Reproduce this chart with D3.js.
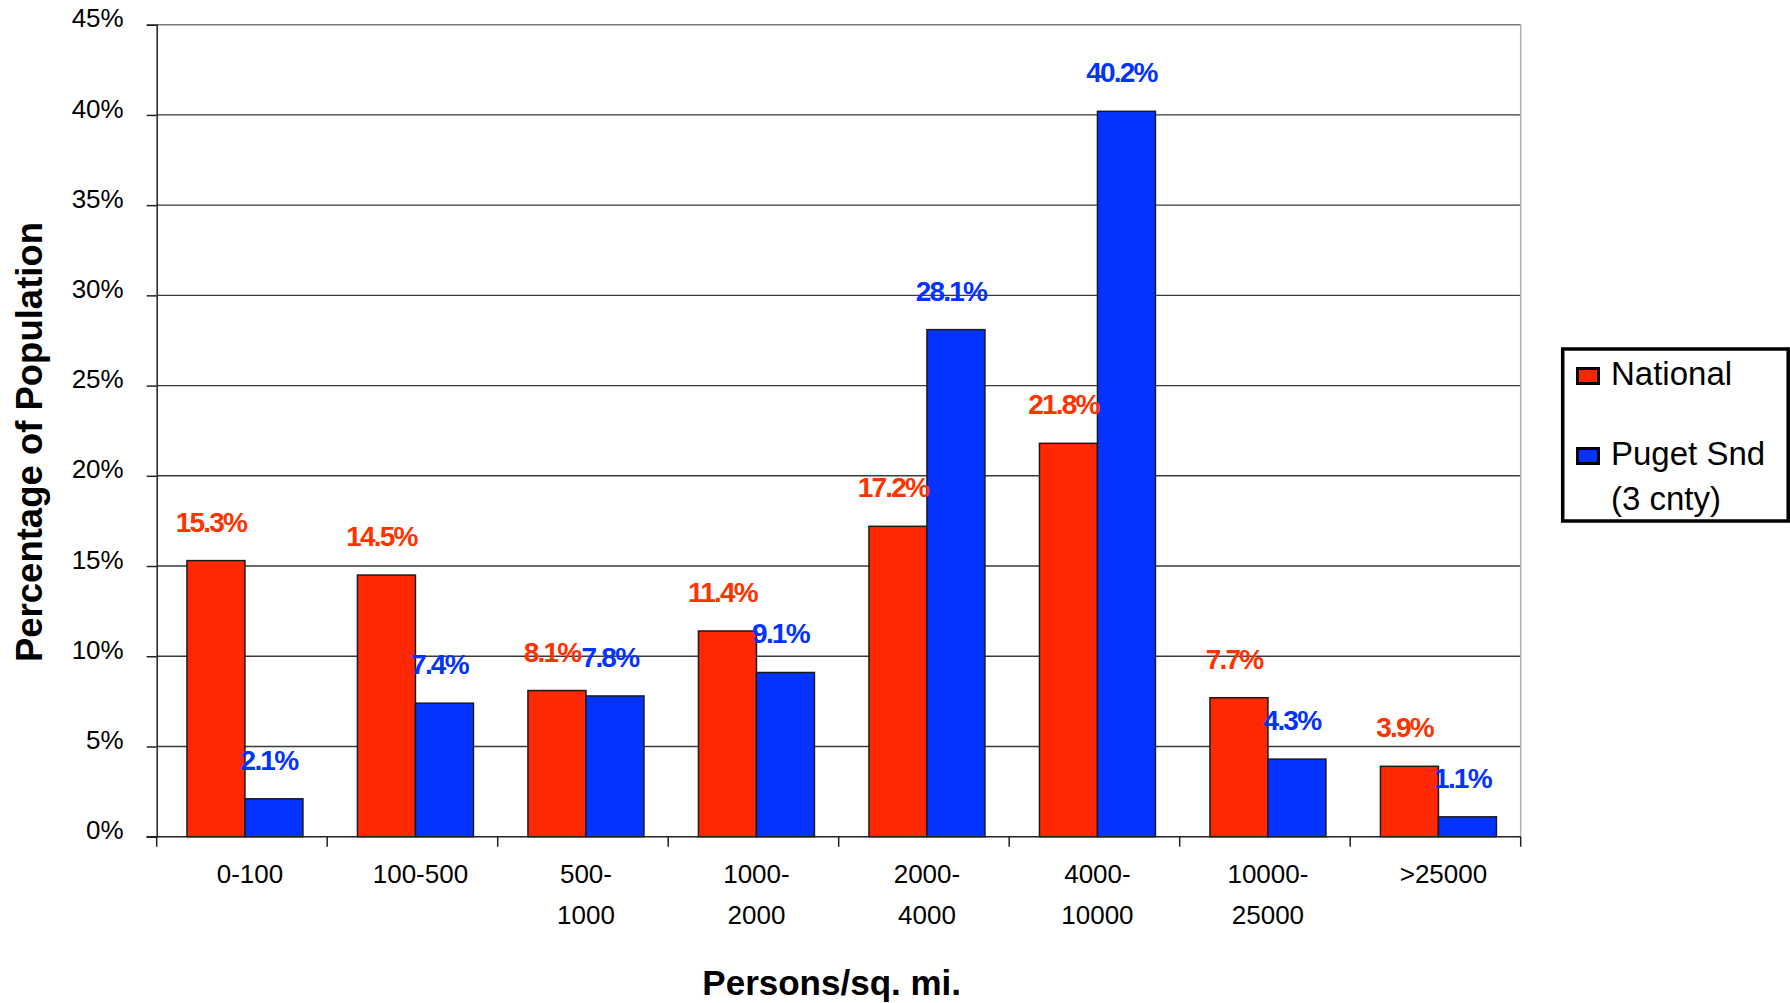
<!DOCTYPE html>
<html>
<head>
<meta charset="utf-8">
<script src="https://cdn.jsdelivr.net/npm/d3@7"></script>
<style>
  html, body { margin: 0; padding: 0; background: #fff; }
  svg { display: block; font-family: "Liberation Sans", Arial, sans-serif; }
</style>
</head>
<body>
<svg id="chart" width="1790" height="1003"></svg>
<script>
// ---- data ----
const categories = [["0-100"], ["100-500"], ["500-", "1000"], ["1000-", "2000"], ["2000-", "4000"], ["4000-", "10000"], ["10000-", "25000"], [">25000"]];
const seriesNames = ["National", "Puget Snd (3 cnty)"];
const legendLines = [["National"], ["Puget Snd", "(3 cnty)"]];
const nationalValues = [15.3, 14.5, 8.1, 11.4, 17.2, 21.8, 7.7, 3.9];
const pugetValues = [2.1, 7.4, 7.8, 9.1, 28.1, 40.2, 4.3, 1.1];
const yTicks = [0, 5, 10, 15, 20, 25, 30, 35, 40, 45];
const yTitle = "Percentage of Population";
const xTitle = "Persons/sq. mi.";

// ---- styles ----
const barColors = ["#ff2800", "#0433ff"];
const labelColors = ["#ff3300", "#0433ff"];

const svg = d3.select("#chart");
const plot = { left: 156.7, right: 1520.7, top: 24.7, bottom: 836.7 };

const catKeys = categories.map(c => c.join(""));
const x0 = d3.scaleBand().domain(catKeys).range([plot.left, plot.right]).padding(0);
const x1 = d3.scaleBand().domain(seriesNames).range([3, x0.bandwidth() + 3]).paddingInner(0).paddingOuter(0.47);
const y = d3.scaleLinear().domain([0, 45]).range([plot.bottom, plot.top]);

// gridlines
svg.append("g").selectAll("line").data(yTicks.filter(t => t > 0)).join("line")
  .attr("x1", plot.left).attr("x2", plot.right)
  .attr("y1", d => y(d)).attr("y2", d => y(d))
  .attr("stroke", d => d === 45 ? "#7a7a7a" : "#3a3a3a").attr("stroke-width", 1.4);

// right border of plot area
svg.append("line").attr("x1", plot.right).attr("x2", plot.right)
  .attr("y1", plot.top).attr("y2", plot.bottom)
  .attr("stroke", "#b0b0b0").attr("stroke-width", 1.5);

// bars
const rows = catKeys.map((k, i) => ({ key: k, values: [nationalValues[i], pugetValues[i]] }));
const groups = svg.append("g").selectAll("g").data(rows).join("g")
  .attr("transform", d => `translate(${x0(d.key)},0)`);

groups.selectAll("rect").data(d => d.values.map((v, s) => ({ v, s }))).join("rect")
  .attr("x", d => x1(seriesNames[d.s]))
  .attr("width", x1.bandwidth())
  .attr("y", d => y(d.v))
  .attr("height", d => y(0) - y(d.v))
  .attr("fill", d => barColors[d.s])
  .attr("stroke", "#1a1a1a").attr("stroke-width", 1.5);

// data labels
groups.selectAll("text").data(d => d.values.map((v, s) => ({ v, s }))).join("text")
  .attr("x", d => x1(seriesNames[d.s]) + x1.bandwidth() / 2 - 5)
  .attr("y", d => y(d.v) - 29)
  .attr("text-anchor", "middle")
  .attr("font-size", 28).attr("font-weight", "bold")
  .attr("letter-spacing", -1.8)
  .attr("fill", d => labelColors[d.s])
  .text(d => d.v.toFixed(1) + "%");

// y axis
const yAxis = d3.axisLeft(y).tickValues(yTicks).tickSize(10).tickPadding(23)
  .tickFormat(d => d + "%");
const gy = svg.append("g").attr("transform", `translate(${plot.left},0)`).call(yAxis);
gy.select(".domain").attr("stroke", "#222").attr("stroke-width", 1.5);
gy.selectAll(".tick line").attr("stroke", "#222").attr("stroke-width", 1.5);
gy.selectAll(".tick text").attr("font-size", 26).attr("fill", "#000")
  .attr("font-family", "Liberation Sans, Arial, sans-serif")
  .attr("dy", "0.08em");

// x axis line and ticks at band boundaries
svg.append("line").attr("x1", plot.left - 10).attr("x2", plot.right)
  .attr("y1", plot.bottom).attr("y2", plot.bottom)
  .attr("stroke", "#222").attr("stroke-width", 1.5);
const boundaries = catKeys.map(k => x0(k)).concat([plot.right]);
svg.append("g").selectAll("line").data(boundaries).join("line")
  .attr("x1", d => d).attr("x2", d => d)
  .attr("y1", plot.bottom).attr("y2", plot.bottom + 10)
  .attr("stroke", "#222").attr("stroke-width", 1.5);

// category labels
const catText = svg.append("g").selectAll("text").data(categories).join("text")
  .attr("text-anchor", "middle")
  .attr("font-size", 26).attr("fill", "#000");
catText.selectAll("tspan").data((d, i) => d.map(line => ({ line, i, n: d.length }))).join("tspan")
  .attr("x", d => x0(catKeys[d.i]) + x0.bandwidth() / 2 + (d.n === 1 ? 8 : 3))
  .attr("y", (d, j) => 883 + j * 41)
  .text(d => d.line);

// axis titles
svg.append("text").attr("x", 831.7).attr("y", 995)
  .attr("text-anchor", "middle").attr("font-size", 35).attr("font-weight", "bold")
  .text(xTitle);
svg.append("text").attr("transform", "translate(42,442) rotate(-90)")
  .attr("text-anchor", "middle").attr("font-size", 36.5).attr("font-weight", "bold")
  .text(yTitle);

// legend
const lg = svg.append("g");
lg.append("rect").attr("x", 1562.7).attr("y", 349).attr("width", 225.5).attr("height", 172)
  .attr("fill", "#fff").attr("stroke", "#000").attr("stroke-width", 3.5);
const swatchY = [368.5, 448.5];
const textY = [385, 465];
legendLines.forEach((lines, s) => {
  lg.append("rect").attr("x", 1577.5).attr("y", swatchY[s]).attr("width", 21).attr("height", 15)
    .attr("fill", barColors[s]).attr("stroke", "#000").attr("stroke-width", 3);
  const t = lg.append("text").attr("font-size", 33).attr("fill", "#000");
  lines.forEach((line, j) => {
    t.append("tspan").attr("x", 1611).attr("y", textY[s] + j * 45).text(line);
  });
});
</script>
</body>
</html>
